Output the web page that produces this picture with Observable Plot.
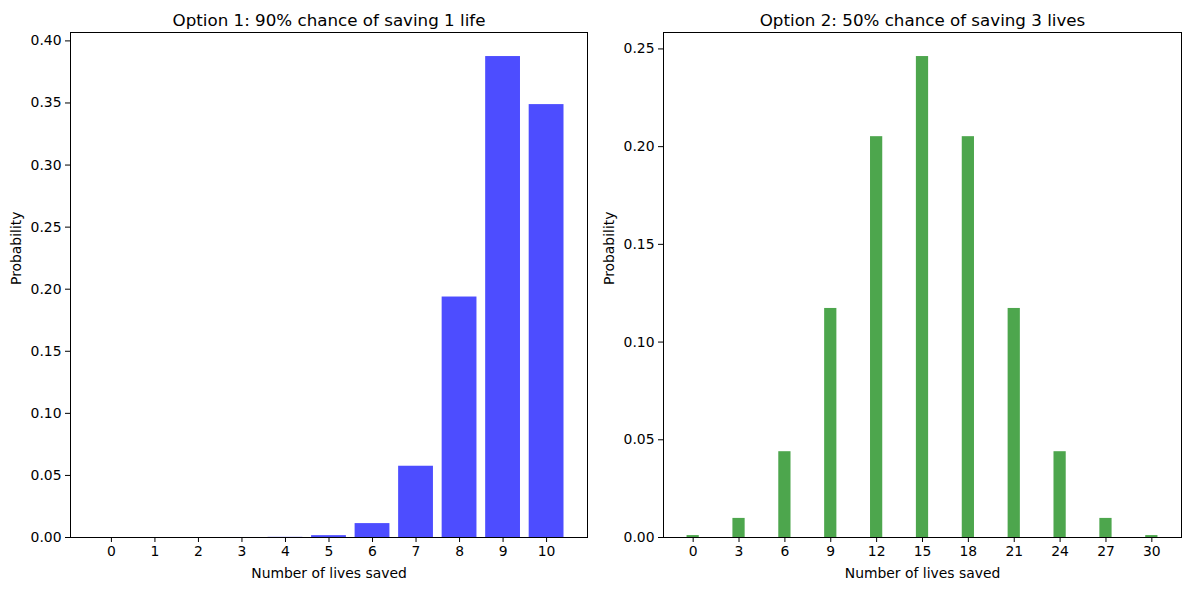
<!DOCTYPE html>
<html>
<head>
<meta charset="utf-8">
<script src="https://cdn.jsdelivr.net/npm/d3@7"></script>
<script src="https://cdn.jsdelivr.net/npm/@observablehq/plot@0.6"></script>
<style>
  html, body { margin: 0; padding: 0; background: #fff; }
  #wrap { position: relative; width: 1189px; height: 590px; overflow: hidden; }
  #wrap > svg { position: absolute; top: 0; }
</style>
</head>
<body>
<div id="wrap"></div>
<script>
// Option 1: 90% chance of saving 1 life (10 people)
const livesA = [0, 1, 2, 3, 4, 5, 6, 7, 8, 9, 10];
const probA = [0.0000000001, 0.000000009, 0.00000036, 0.0000087, 0.000138, 0.00149, 0.0112, 0.0574, 0.1937, 0.3874, 0.3487];
const ticksA = [0, 1, 2, 3, 4, 5, 6, 7, 8, 9, 10];
const yTicksA = [0, 0.05, 0.10, 0.15, 0.20, 0.25, 0.30, 0.35, 0.40];

// Option 2: 50% chance of saving 3 lives
const livesB = [0, 3, 6, 9, 12, 15, 18, 21, 24, 27, 30];
const probB = [0.00098, 0.00977, 0.0439, 0.1172, 0.2051, 0.2461, 0.2051, 0.1172, 0.0439, 0.00977, 0.00098];
const ticksB = [0, 3, 6, 9, 12, 15, 18, 21, 24, 27, 30];
const yTicksB = [0, 0.05, 0.10, 0.15, 0.20, 0.25];

const titles = ["Option 1: 90% chance of saving 1 life", "Option 2: 50% chance of saving 3 lives"];
const xLabel = "Number of lives saved";
const yLabel = "Probability";
const colors = ["#4d4dff", "#4da64d"];

const FONT = "DejaVu Sans, Liberation Sans, sans-serif";
const barWidth = 0.8;

function panel({lives, probs, xticks, yticks, title, color, width, marginLeft, marginRight, left}) {
  const data = lives.map((k, i) => ({k, p: probs[i]}));
  const xmin = d3.min(lives) - barWidth / 2, xmax = d3.max(lives) + barWidth / 2;
  const xm = (xmax - xmin) * 0.05;
  const ymax = d3.max(probs) * 1.05;
  const svg = Plot.plot({
    width, height: 590,
    marginLeft, marginRight, marginTop: 32, marginBottom: 53,
    style: {fontFamily: FONT, fontSize: "13.9px", color: "black", background: "white", overflow: "visible"},
    x: {domain: [xmin - xm, xmax + xm], nice: false},
    y: {domain: [0, ymax], nice: false},
    marks: [
      Plot.rectY(data, {x1: d => d.k - barWidth / 2, x2: d => d.k + barWidth / 2, y: "p", fill: color}),
      Plot.axisX({ticks: xticks, tickFormat: d3.format("d"), tickSize: 5, tickPadding: 4, label: null, fontSize: 13.9, stroke: "black"}),
      Plot.axisY({ticks: yticks, tickFormat: d3.format(".2f"), tickSize: 5, tickPadding: 4, label: null, fontSize: 13.9, stroke: "black"}),
      Plot.frame({stroke: "black", strokeWidth: 1}),
      Plot.text([title], {frameAnchor: "top", lineAnchor: "bottom", dy: -7, fontSize: 16.7, fill: "black", text: d => d}),
      Plot.text([xLabel], {frameAnchor: "bottom", lineAnchor: "bottom", dy: 40, fontSize: 13.9, fill: "black", text: d => d}),
      Plot.text([yLabel], {frameAnchor: "left", dx: -54, rotate: -90, fontSize: 13.9, fill: "black", text: d => d})
    ]
  });
  svg.style.left = left + "px";
  return svg;
}

const wrap = document.getElementById("wrap");
wrap.appendChild(panel({lives: livesA, probs: probA, xticks: ticksA, yticks: yTicksA, title: titles[0], color: colors[0],
  width: 595, marginLeft: 70, marginRight: 8, left: 0}));
wrap.appendChild(panel({lives: livesB, probs: probB, xticks: ticksB, yticks: yTicksB, title: titles[1], color: colors[1],
  width: 599, marginLeft: 73, marginRight: 8, left: 590}));
</script>
</body>
</html>
